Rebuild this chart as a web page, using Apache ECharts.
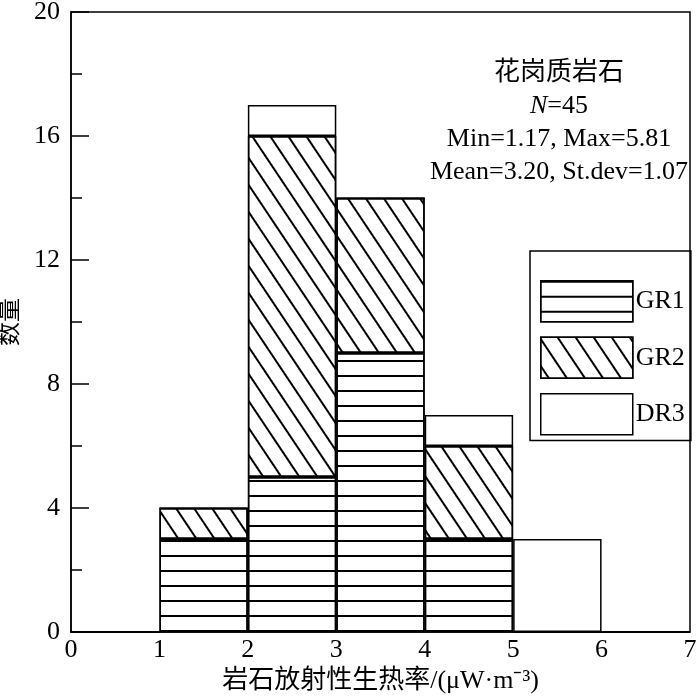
<!DOCTYPE html>
<html>
<head>
<meta charset="utf-8">
<script src="https://cdn.jsdelivr.net/npm/echarts@6/dist/echarts.min.js"></script>
<style>
  html, body { margin: 0; padding: 0; background: #fff; }
  #chart { width: 700px; height: 700px; }
</style>
</head>
<body>
<div id="chart"></div>
<script>
// bins 0-1, 1-2, ..., 6-7
var bins = ['0-1', '1-2', '2-3', '3-4', '4-5', '5-6', '6-7']
var gr1 = [0, 3, 5, 9, 3, 0, 0]
var gr2 = [0, 1, 11, 5, 3, 0, 0]
var dr3 = [0, 0, 1, 0, 1, 3, 0]
var seriesNames = ['GR1', 'GR2', 'DR3']
var infoLines = ['花岗质岩石', 'N=45', 'Min=1.17, Max=5.81', 'Mean=3.20, St.dev=1.07']

var font = '"Liberation Serif", "Times New Roman", "Noto Sans CJK SC", serif'
var fontSize = 26

var hLines = {
  symbol: 'rect',
  symbolSize: 1,
  dashArrayX: [1, 0],
  dashArrayY: [1.5, 12.8],
  color: '#000'
}
var diagLines = {
  symbol: 'rect',
  symbolSize: 1,
  dashArrayX: [1, 0],
  dashArrayY: [1.5, 12.5],
  rotation: Math.PI / 3.2,
  color: '#000'
}

function barSeries(name, data, decal) {
  return {
    name: name,
    type: 'bar',
    stack: 'all',
    xAxisIndex: 1,
    barWidth: '100%',
    data: data,
    itemStyle: {
      color: '#fff',
      borderColor: '#000',
      borderWidth: 1.5,
      decal: decal
    }
  }
}

var chart = echarts.init(document.getElementById('chart'))
chart.setOption({
  animation: false,
  textStyle: { fontFamily: font, color: '#000' },
  grid: {
    left: 71, right: 10, top: 12, bottom: 68,
    outerBoundsMode: 'none',
    containLabel: false,
    show: true, borderColor: '#000', borderWidth: 1.5
  },
  legend: {
    orient: 'vertical',
    left: 530,
    top: 251,
    data: seriesNames,
    itemWidth: 92,
    itemHeight: 41,
    itemGap: 14,
    padding: [29, 6, 5, 10],
    borderColor: '#000',
    borderWidth: 1.5,
    icon: 'rect',
    textStyle: { fontFamily: font, fontSize: fontSize, color: '#000', padding: [0, 0, 0, -2] },
    itemStyle: { borderColor: '#000', borderWidth: 1.5 }
  },
  graphic: [{
    type: 'text',
    x: 559,
    y: 57,
    style: {
      text: infoLines.map(function(t, i) {
        return i === 1 ? '{it|N}{n|=45}' : '{n|' + t + '}'
      }).join('\n'),
      textAlign: 'center',
      textVerticalAlign: 'top',
      rich: {
        n: { fontFamily: font, fontSize: fontSize, lineHeight: 33, fill: '#000' },
        it: { fontFamily: font, fontSize: fontSize, lineHeight: 33, fontStyle: 'italic', fill: '#000' }
      }
    }
  }],
  xAxis: [{
    type: 'value',
    min: 0,
    max: 7,
    interval: 1,
    name: '岩石放射性生热率/(μW·m⁻³)',
    nameLocation: 'middle',
    nameGap: 36,
    nameTextStyle: { fontFamily: font, fontSize: fontSize, color: '#000' },
    axisLine: { lineStyle: { color: '#000', width: 1.5 } },
    axisTick: { show: false },
    splitLine: { show: false },
    axisLabel: { fontFamily: font, fontSize: fontSize, color: '#000', margin: 5 }
  }, {
    type: 'category',
    data: bins,
    show: false,
    position: 'bottom'
  }],
  yAxis: {
    type: 'value',
    min: 0,
    max: 20,
    interval: 4,
    name: '数量',
    nameLocation: 'middle',
    nameRotate: 90,
    nameGap: 41,
    nameTextStyle: { fontFamily: font, fontSize: 24, color: '#000' },
    axisLine: { show: true, lineStyle: { color: '#000', width: 1.5 } },
    axisTick: { show: true, inside: true, length: 18, lineStyle: { color: '#000', width: 1.5 } },
    minorTick: { show: true, splitNumber: 2, length: 11, lineStyle: { color: '#000', width: 1.5 } },
    splitLine: { show: false },
    axisLabel: { fontFamily: font, fontSize: fontSize, color: '#000', margin: 11 }
  },
  series: [
    barSeries('GR1', gr1, hLines),
    barSeries('GR2', gr2, diagLines),
    barSeries('DR3', dr3, null)
  ]
})
</script>
</body>
</html>
